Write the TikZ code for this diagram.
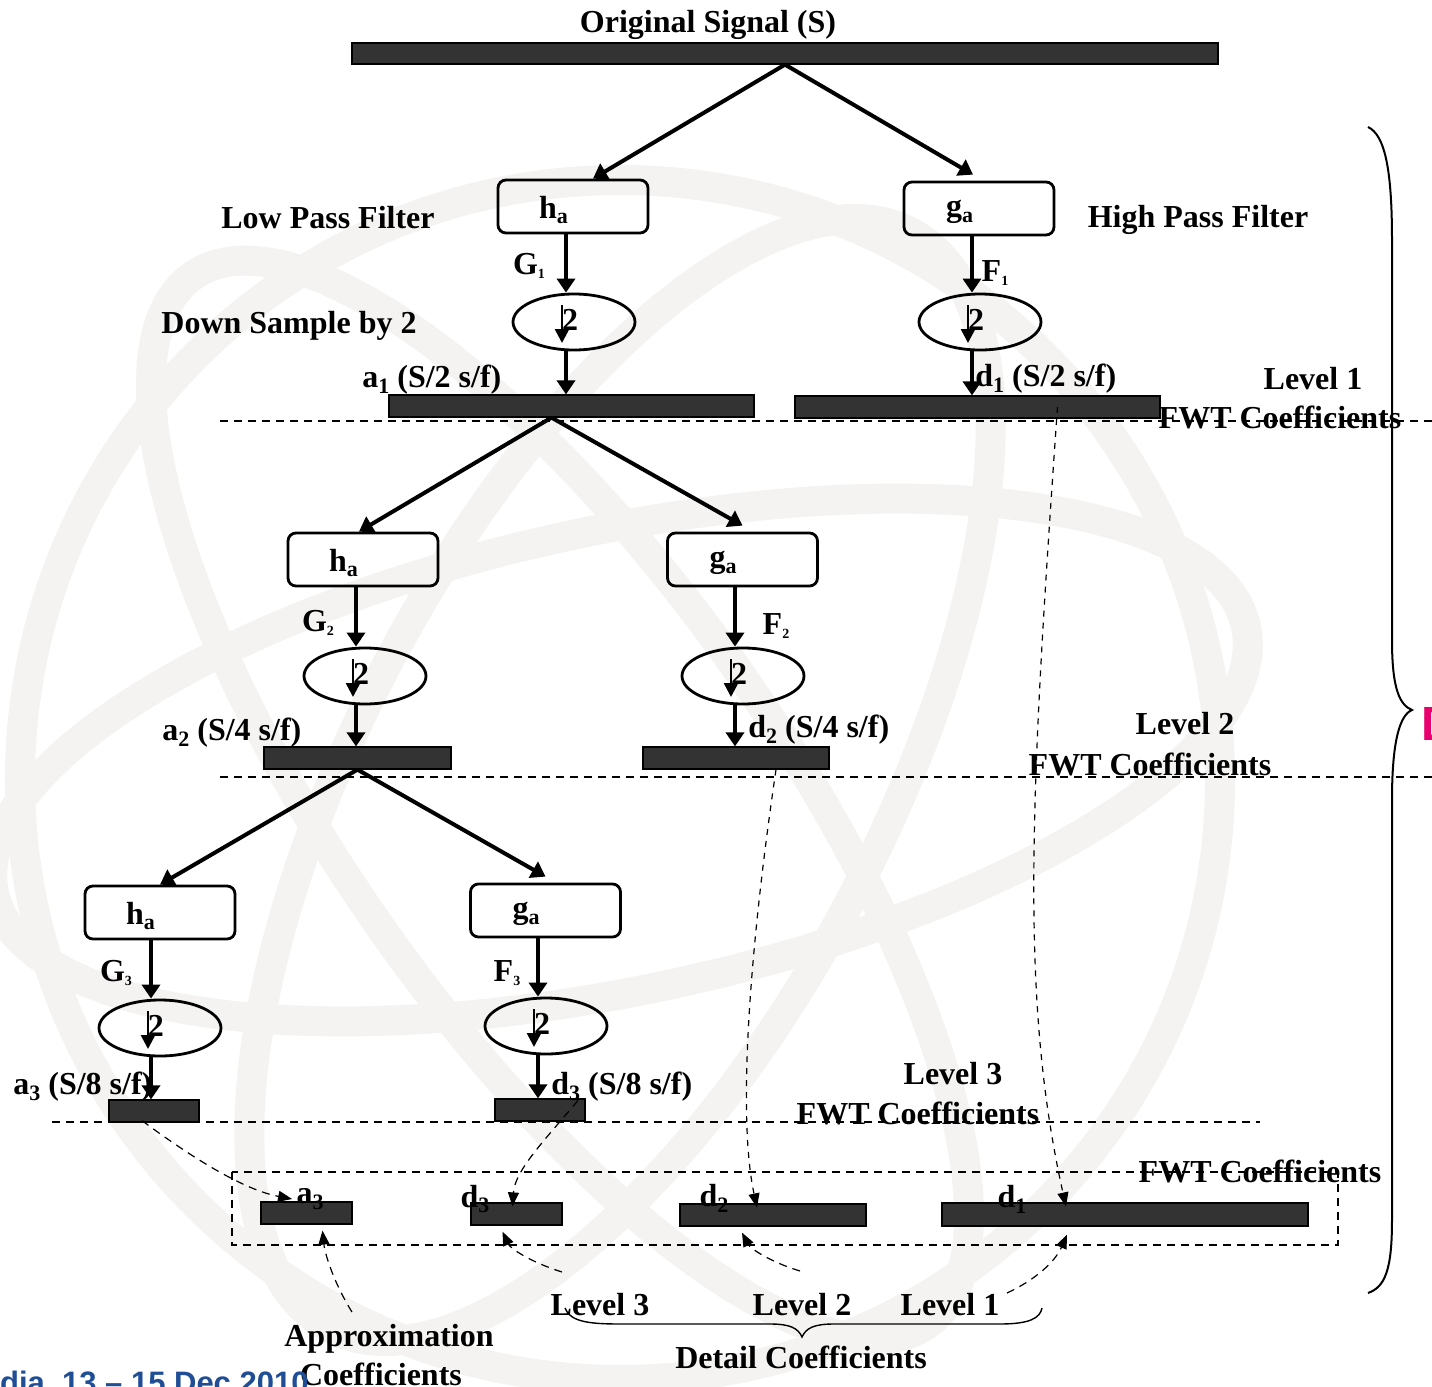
\documentclass[tikz,border=0pt]{standalone}
\usepackage{fontspec}
\setmainfont{Liberation Serif}
\newfontfamily\datefont{Liberation Sans}
\usetikzlibrary{arrows.meta,shapes.geometric}

\definecolor{barfill}{HTML}{333333}
\definecolor{datecol}{HTML}{1F4E96}
\definecolor{markpink}{HTML}{E8006E}
\definecolor{wmark}{HTML}{F4F3F1}

% subscripts in two sizes
\newcommand{\lowsub}[1]{\raisebox{-0.4ex}{\fontsize{11}{11}\selectfont #1}}
\newcommand{\tinysub}[1]{\raisebox{-0.3ex}{\fontsize{7}{7}\selectfont #1}}

\begin{document}
\begin{tikzpicture}[x=0.5pt,y=-0.5pt,
  every node/.style={font=\fontsize{16}{19}\selectfont\bfseries, inner sep=0pt},
  filt/.style={draw, line width=1.4pt, rounded corners=4pt, minimum width=75pt, minimum height=26.5pt},
  dsamp/.style={draw, ellipse, line width=1.4pt, minimum width=61pt, minimum height=28pt},
  sigbar/.style={draw, fill=barfill, line width=0.6pt, minimum height=11pt},
  flow/.style={line width=2pt, -{Triangle[width=9pt,length=7pt]}},
  inarrow/.style={line width=1.3pt, -{Triangle[width=7pt,length=7pt]}},
  link/.style={line width=0.6pt, dash pattern=on 4pt off 3pt, -{Triangle[width=5.5pt,length=7pt]}},
  rule/.style={line width=0.6pt, dash pattern=on 4pt off 3pt},
  bracepath/.style={line width=1pt}
]
\useasboundingbox (0,0) rectangle (1432,1387);
\fill[white] (0,0) rectangle (1432,1387);
\clip (0,0) rectangle (1432,1387);

% faint globe watermark
\begin{scope}[draw=wmark, line width=15pt]
  \draw (620,780) circle [radius=600];
  \draw[rotate around={-28:(620,780)}] (620,780) ellipse [x radius=260, y radius=620];
  \draw[rotate around={12:(620,760)}] (620,760) ellipse [x radius=640, y radius=230];
  \draw[rotate around={35:(560,800)}] (560,800) ellipse [x radius=220, y radius=640];
\end{scope}

% ---------- original signal ----------
\node (title) at (708,25) {Original Signal (S)};
\node[sigbar, minimum width=433pt, minimum height=10.5pt] (S) at (785,53.5) {};

% ---------- level 1 ----------
\node[filt] (ha1) at (573,206.5) {};
\node[filt] (ga1) at (979,208.5) {};
\node (ha1t) at ([xshift=-9.75pt,yshift=-1.75pt]ha1.center) {h\lowsub{a}};
\node (ga1t) at ([xshift=-9.75pt,yshift=-1.75pt]ga1.center) {g\lowsub{a}};
\node[dsamp] (e1) at (574,322) {};
\node[dsamp] (f1) at (980,322) {};
\node[sigbar, minimum width=182.5pt] (a1) at (571.5,406) {};
\node[sigbar, minimum width=182.5pt] (d1) at (977.5,407) {};

\draw[flow] (S.south) -- ([xshift=10pt]ha1.north);
\draw[flow] (S.south) -- ([xshift=-3pt,yshift=3pt]ga1.north);
\draw[flow] ([xshift=-3.5pt]ha1.south) -- ([xshift=-4pt]e1.north);
\draw[flow] ([xshift=-4pt]e1.south) -- ([xshift=-4pt]e1.south |- a1.north);
\draw[flow] ([xshift=-3.5pt]ga1.south) -- ([xshift=-4pt]f1.north);
\draw[flow] ([xshift=-4pt]f1.south) -- ([xshift=-4pt]f1.south |- d1.north);

\node (G1) at (529,266) {G\tinysub{1}};
\node (F1) at (995,273) {F\tinysub{1}};
\node (lpf) at (328,218) {Low Pass Filter};
\node (hpf) at (1198,220) {High Pass Filter};
\node (dsb) at (289,326) {Down Sample by 2};
\node[anchor=west] (a1l) at (362,380) {a\lowsub{1} (S/2 s/f)};
\node[anchor=west] (d1l) at (975,379) {d\lowsub{1} (S/2 s/f)};
\node (lv1) at (1313,379) {Level 1};
\node (fwt1) at (1280,417) {FWT Coefficients};
\draw[rule] (220,421) -- (1432,421);

% ---------- level 2 ----------
\node[filt] (ha2) at (363,559.5) {};
\node[filt] (ga2) at (742.5,559.5) {};
\node (ha2t) at ([xshift=-9.75pt,yshift=-1.75pt]ha2.center) {h\lowsub{a}};
\node (ga2t) at ([xshift=-9.75pt,yshift=-1.75pt]ga2.center) {g\lowsub{a}};
\node[dsamp] (e2) at (365,676) {};
\node[dsamp] (f2) at (743,676) {};
\node[sigbar, minimum width=93.5pt] (a2) at (357.5,758) {};
\node[sigbar, minimum width=93pt] (d2) at (736,758) {};

\draw[flow] ([xshift=-10pt]a1.south) -- ([xshift=-2pt]ha2.north);
\draw[flow] ([xshift=-10pt]a1.south) -- ([yshift=3pt]ga2.north);
\draw[flow] ([xshift=-3.5pt]ha2.south) -- ([xshift=-4.5pt]e2.north);
\draw[flow] ([xshift=-4.5pt]e2.south) -- ([xshift=-4.5pt]e2.south |- a2.north);
\draw[flow] ([xshift=-3.75pt]ga2.south) -- ([xshift=-4pt]f2.north);
\draw[flow] ([xshift=-4pt]f2.south) -- ([xshift=-4pt]f2.south |- d2.north);

\node (G2) at (318,623) {G\tinysub{2}};
\node (F2) at (776,626) {F\tinysub{2}};
\node[anchor=west] (a2l) at (162,733) {a\lowsub{2} (S/4 s/f)};
\node[anchor=west] (d2l) at (748,730) {d\lowsub{2} (S/4 s/f)};
\node (lv2) at (1185,724) {Level 2};
\node (fwt2) at (1150,764) {FWT Coefficients};
\draw[rule] (220,777) -- (1432,777);

% ---------- level 3 ----------
\node[filt] (ha3) at (160,912.5) {};
\node[filt] (ga3) at (545.5,910.5) {};
\node (ha3t) at ([xshift=-9.75pt,yshift=-1.75pt]ha3.center) {h\lowsub{a}};
\node (ga3t) at ([xshift=-9.75pt,yshift=-1.75pt]ga3.center) {g\lowsub{a}};
\node[dsamp] (e3) at (160,1028) {};
\node[dsamp] (f3) at (546,1026) {};
\node[sigbar, minimum width=45pt] (a3) at (154,1111) {};
\node[sigbar, minimum width=45pt] (d3) at (540,1110) {};

\draw[flow] (a2.south) -- (ha3.north);
\draw[flow] (a2.south) -- ([yshift=3pt]ga3.north);
\draw[flow] ([xshift=-4.5pt]ha3.south) -- ([xshift=-4.5pt]e3.north);
\draw[flow] ([xshift=-4.5pt]e3.south) -- ([xshift=-4.5pt]e3.south |- a3.north);
\draw[flow] ([xshift=-3.75pt]ga3.south) -- ([xshift=-4pt]f3.north);
\draw[flow] ([xshift=-4pt]f3.south) -- ([xshift=-4pt]f3.south |- d3.north);

\node (G3) at (116,973) {G\tinysub{3}};
\node (F3) at (507,973) {F\tinysub{3}};
\node[anchor=west] (a3l) at (13,1087) {a\lowsub{3} (S/8 s/f)};
\node[anchor=west] (d3l) at (551,1087) {d\lowsub{3} (S/8 s/f)};
\node (lv3) at (953,1074) {Level 3};
\node (fwt3) at (918,1113) {FWT Coefficients};
\draw[rule] (52,1122) -- (1260,1122);

% down-sampling marks inside the ellipses
\foreach \e in {e1,f1,e2,f2,e3,f3}{
  \draw[inarrow] ([xshift=-6pt,yshift=8.5pt]\e.center) -- ([xshift=-6pt,yshift=-10.5pt]\e.center);
  \node (\e-two) at ([xshift=-2pt,yshift=1pt]\e.center) {2};
}

% ---------- collected coefficients ----------
\draw[rule] (232,1172) rectangle (1338,1245);
\node (fwt) at (1260,1171) {FWT Coefficients};
\node[sigbar, minimum width=45.5pt] (A3) at (306.5,1213) {};
\node[sigbar, minimum width=45.5pt] (D3) at (516.5,1214) {};
\node[sigbar, minimum width=93pt] (D2) at (773,1215) {};
\node[sigbar, minimum width=183pt, minimum height=11.5pt] (D1) at (1125,1214.5) {};
\node (A3l) at (310,1199) {a\lowsub{3}};
\node (D3l) at (475,1199) {d\lowsub{3}};
\node (D2l) at (714,1198) {d\lowsub{2}};
\node (D1l) at (1012,1199) {d\lowsub{1}};

% moves of each band into the collected vector
\draw[link] ([xshift=-6pt,yshift=1pt]a3.south) .. controls (195,1160) and (245,1190) .. ([xshift=-2pt]A3l.west);
\draw[link] ([xshift=19pt,yshift=-1pt]d3.north) .. controls (545,1140) and (515,1170) .. ([xshift=-2pt,yshift=-2pt]D3.north);
\draw[link, dash pattern=on 3pt off 3pt] ([xshift=20pt]d2.south) .. controls (748,960) and (738,1120) .. ([xshift=-8pt,yshift=-2pt]D2.north);
\draw[link, dash pattern=on 3pt off 3pt] ([xshift=40pt]d1.center) .. controls (1030,800) and (1020,1000) .. ([xshift=-29.5pt,yshift=-2pt]D1.north);

% bottom labels and their pointers
\node (lvb3) at (600,1305) {Level 3};
\node (lvb2) at (802,1305) {Level 2};
\node (lvb1) at (950,1305) {Level 1};
\node (det) at (801,1357) {Detail Coefficients};
\node (apx) at (389,1339) {Approximation};
\node (apx2) at (381,1374) {Coefficients};
\coordinate (apxtail) at (352,1312);
\coordinate (l3tail) at (562,1272);
\coordinate (l2tail) at (800,1271);
\coordinate (l1tail) at (1007,1293);
\draw[link] (apxtail) .. controls (335,1285) and (325,1255) .. ([xshift=8pt,yshift=-3pt]A3.south);
\draw[link] (l3tail) .. controls (530,1262) and (510,1248) .. ([xshift=-7pt,yshift=-3pt]D3.south);
\draw[link] (l2tail) .. controls (770,1262) and (750,1248) .. ([xshift=-15.5pt,yshift=-3pt]D2.south);
\draw[link] (l1tail) .. controls (1035,1280) and (1055,1262) .. ([xshift=-29pt,yshift=-4pt]D1.south);

% brace under the detail levels
\draw[bracepath, line width=0.7pt] (565,1308) .. controls (570,1322) and (590,1324) .. (620,1324)
  -- (770,1324) .. controls (790,1324) and (798,1328) .. (802,1337)
  .. controls (806,1328) and (814,1324) .. (834,1324)
  -- (1000,1324) .. controls (1030,1324) and (1040,1318) .. (1042,1308);

% large brace on the right
\draw[bracepath] (1368,127) .. controls (1385,135) and (1392,170) .. (1392,240)
  -- (1392,640) .. controls (1392,690) and (1400,705) .. (1412,710)
  .. controls (1400,715) and (1392,740) .. (1392,800)
  -- (1392,1220) .. controls (1392,1270) and (1385,1287) .. (1368,1293);

% running footer and slide mark
\node[anchor=base east, font=\datefont\fontsize{15.5}{18}\selectfont\bfseries, text=datecol] (date) at (309,1393) {dia\ \ 13 – 15 Dec 2010};
\node[anchor=base west, font=\datefont\fontsize{24}{28}\selectfont\bfseries, text=markpink] (mark) at (1421,740) {D};
\end{tikzpicture}
\end{document}
